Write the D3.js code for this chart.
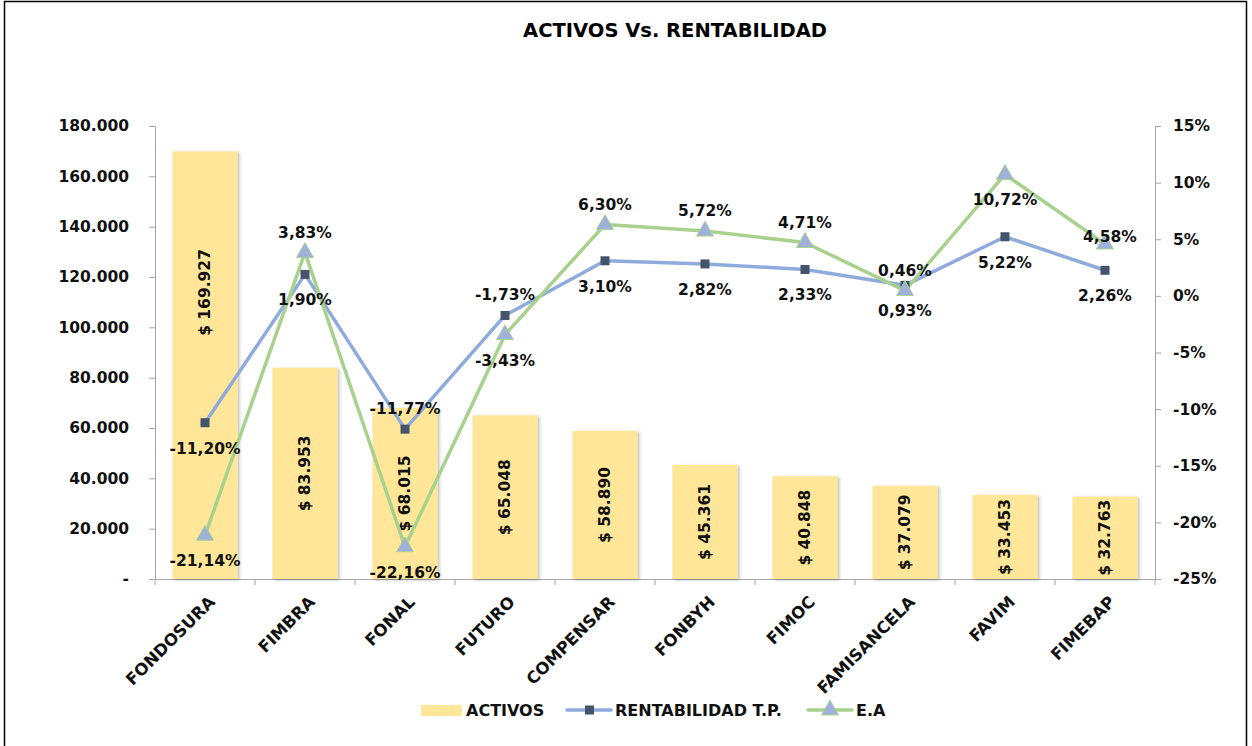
<!DOCTYPE html>
<html lang="es">
<head>
    <meta charset="UTF-8">
    <title>Activos Vs. Rentabilidad</title>
    <script src="https://d3js.org/d3.v7.min.js"></script>
    <style>
        body {
            margin: 0;
            background: #fff;
            font-family: 'DejaVu Sans', Verdana, sans-serif;
        }
        .tick text {
            font-family: 'DejaVu Sans', Verdana, sans-serif;
            font-size: 15.5px;
            font-weight: bold;
            fill: #111;
        }
        .lbl {
            font-size: 15.5px;
            font-weight: bold;
            fill: #111;
        }
    </style>
</head>
<body>
    <svg id="chart" width="1252" height="746"></svg>

    <script>
        // data
        const fondos = ["FONDOSURA", "FIMBRA", "FONAL", "FUTURO", "COMPENSAR", "FONBYH", "FIMOC", "FAMISANCELA", "FAVIM", "FIMEBAP"];
        const activos = [169927, 83953, 68015, 65048, 58890, 45361, 40848, 37079, 33453, 32763];
        const rentabilidad = [-11.20, 1.90, -11.77, -1.73, 3.10, 2.82, 2.33, 0.93, 5.22, 2.26];
        const ea = [-21.14, 3.83, -22.16, -3.43, 6.30, 5.72, 4.71, 0.46, 10.72, 4.58];
        const leftTicks = [0, 20000, 40000, 60000, 80000, 100000, 120000, 140000, 160000, 180000];
        const rightTicks = [-25, -20, -15, -10, -5, 0, 5, 10, 15];
        // where each label sits relative to its mark
        const barLabelPos = ["high", "center", "center", "center", "center", "center", "center", "center", "center", "center"];
        const rentLabelPos = ["below", "below", "above", "above", "below", "below", "below", "below", "below", "below"];
        const eaLabelPos = ["below", "above", "below", "below", "above", "above", "above", "above", "below", "right"];

        const plot = { left: 155, right: 1155, top: 126, bottom: 579 };

        const svg = d3.select("#chart");

        // outer frame
        svg.append("rect")
           .attr("x", 4.5).attr("y", 1.5)
           .attr("width", 1242).attr("height", 760)
           .attr("fill", "none").attr("stroke", "#000").attr("stroke-width", 1.5);

        svg.append("text")
           .attr("x", 675).attr("y", 37)
           .attr("text-anchor", "middle")
           .style("font-size", "19.5px").style("font-weight", "bold")
           .text("ACTIVOS Vs. RENTABILIDAD");

        const x = d3.scaleBand()
                    .domain(fondos)
                    .range([plot.left, plot.right])
                    .paddingInner(0.35)
                    .paddingOuter(0.175);

        const xOuter = d3.scaleBand().domain(fondos).range([plot.left, plot.right]);

        const yL = d3.scaleLinear().domain([0, 180000]).range([plot.bottom, plot.top]);
        const yR = d3.scaleLinear().domain([-25, 15]).range([plot.bottom, plot.top]);

        const loc = d3.formatLocale({ decimal: ",", thousands: ".", grouping: [3], currency: ["$ ", ""], minus: "-" });
        const fmtNum = loc.format(",.0f");
        const fmtPct = loc.format(".2f");

        // axes
        const axL = svg.append("g")
           .attr("transform", `translate(${plot.left},0)`)
           .call(d3.axisLeft(yL).tickValues(leftTicks).tickSize(6).tickPadding(20)
                 .tickFormat(d => d === 0 ? "-" : fmtNum(d)));
        axL.select(".domain").attr("stroke", "#a6a6a6");
        axL.selectAll(".tick line").attr("stroke", "#a6a6a6");

        const axR = svg.append("g")
           .attr("transform", `translate(${plot.right},0)`)
           .call(d3.axisRight(yR).tickValues(rightTicks).tickSize(6).tickPadding(12)
                 .tickFormat(d => d + "%"));
        axR.select(".domain").attr("stroke", "#a6a6a6");
        axR.selectAll(".tick line").attr("stroke", "#a6a6a6");

        const axB = svg.append("g")
           .attr("transform", `translate(0,${plot.bottom})`)
           .call(d3.axisBottom(xOuter).tickSize(0).tickFormat(""));
        axB.select(".domain").attr("stroke", "#a6a6a6");
        // category separators
        axB.selectAll(".sep")
           .data(d3.range(fondos.length + 1))
           .enter().append("line")
           .attr("x1", i => plot.left + i * xOuter.step())
           .attr("x2", i => plot.left + i * xOuter.step())
           .attr("y1", 0).attr("y2", 6)
           .attr("stroke", "#a6a6a6");

        // category labels
        svg.append("g").selectAll("text")
           .data(fondos)
           .enter().append("text")
           .attr("class", "lbl")
           .attr("text-anchor", "end")
           .attr("transform", d => `translate(${xOuter(d) + xOuter.bandwidth() / 2 + 11},${plot.bottom + 24}) rotate(-45)`)
           .style("font-size", "16.5px")
           .text(d => d);

        // bar shadow filter
        const defs = svg.append("defs");
        const f = defs.append("filter").attr("id", "shadow").attr("x", "-10%").attr("y", "-10%").attr("width", "130%").attr("height", "130%");
        f.append("feDropShadow").attr("dx", 2).attr("dy", 1).attr("stdDeviation", 1.5).attr("flood-color", "#000").attr("flood-opacity", 0.25);

        // bars
        svg.append("g").selectAll("rect")
           .data(activos)
           .enter().append("rect")
           .attr("x", (d, i) => x(fondos[i]))
           .attr("y", d => yL(d))
           .attr("width", x.bandwidth())
           .attr("height", d => plot.bottom - yL(d))
           .attr("fill", "#ffe699")
           .attr("filter", "url(#shadow)");

        svg.append("g").selectAll("text")
           .data(activos)
           .enter().append("text")
           .attr("class", "lbl")
           .attr("text-anchor", "middle")
           .attr("dy", "0.35em")
           .attr("transform", (d, i) => {
               const frac = barLabelPos[i] === "high" ? 0.33 : 0.5;
               const cy = yL(d) + (plot.bottom - yL(d)) * frac;
               return `translate(${x(fondos[i]) + x.bandwidth() / 2},${cy}) rotate(-90)`;
           })
           .text(d => "$ " + fmtNum(d));

        const cx = i => xOuter(fondos[i]) + xOuter.bandwidth() / 2;

        // lines
        const line = d3.line().x((d, i) => cx(i)).y(d => yR(d));

        svg.append("path")
           .datum(rentabilidad)
           .attr("d", line)
           .attr("fill", "none")
           .attr("stroke", "#8faadc")
           .attr("stroke-width", 3.5)
           .attr("stroke-linejoin", "round");

        svg.append("path")
           .datum(ea)
           .attr("d", line)
           .attr("fill", "none")
           .attr("stroke", "#a9d18e")
           .attr("stroke-width", 3.5)
           .attr("stroke-linejoin", "round");

        // markers
        svg.append("g").selectAll("rect")
           .data(rentabilidad)
           .enter().append("rect")
           .attr("x", (d, i) => cx(i) - 4.5)
           .attr("y", d => yR(d) - 4.5)
           .attr("width", 9).attr("height", 9)
           .attr("fill", "#44546a");

        const tri = d3.symbol().type(d3.symbolTriangle).size(125);
        svg.append("g").selectAll("path")
           .data(ea)
           .enter().append("path")
           .attr("d", tri)
           .attr("transform", (d, i) => `translate(${cx(i)},${yR(d)})`)
           .attr("fill", "#9fb0db")
           .attr("stroke", "#a9d18e")
           .attr("stroke-width", 1);

        // point labels
        function placeLabels(values, positions) {
            svg.append("g").selectAll("text")
               .data(values)
               .enter().append("text")
               .attr("class", "lbl")
               .attr("text-anchor", (d, i) => positions[i] === "right" ? "start" : "middle")
               .attr("x", (d, i) => positions[i] === "right" ? cx(i) - 22 : cx(i))
               .attr("y", (d, i) => {
                   const p = positions[i];
                   if (p === "above") return yR(d) - 15;
                   if (p === "below") return yR(d) + 31;
                   return yR(d) - 2;
               })
               .text(d => fmtPct(d) + "%");
        }
        placeLabels(rentabilidad, rentLabelPos);
        placeLabels(ea, eaLabelPos);

        // legend
        const lg = svg.append("g").attr("transform", "translate(0,710)");
        lg.append("rect").attr("x", 421).attr("y", -5).attr("width", 41).attr("height", 11).attr("fill", "#ffe699");
        lg.append("text").attr("class", "lbl").attr("x", 466).attr("y", 6).style("font-size", "16px").text("ACTIVOS");

        lg.append("line").attr("x1", 567).attr("x2", 611).attr("y1", 0).attr("y2", 0)
          .attr("stroke", "#8faadc").attr("stroke-width", 3.5).attr("stroke-linecap", "round");
        lg.append("rect").attr("x", 585).attr("y", -4.5).attr("width", 9).attr("height", 9).attr("fill", "#44546a");
        lg.append("text").attr("class", "lbl").attr("x", 615).attr("y", 6).style("font-size", "16px").text("RENTABILIDAD T.P.");

        lg.append("line").attr("x1", 808).attr("x2", 852).attr("y1", 0).attr("y2", 0)
          .attr("stroke", "#a9d18e").attr("stroke-width", 3.5).attr("stroke-linecap", "round");
        lg.append("path").attr("d", tri).attr("transform", "translate(830,0)")
          .attr("fill", "#9fb0db").attr("stroke", "#a9d18e");
        lg.append("text").attr("class", "lbl").attr("x", 856).attr("y", 6).style("font-size", "16px").text("E.A");
    </script>
</body>
</html>
